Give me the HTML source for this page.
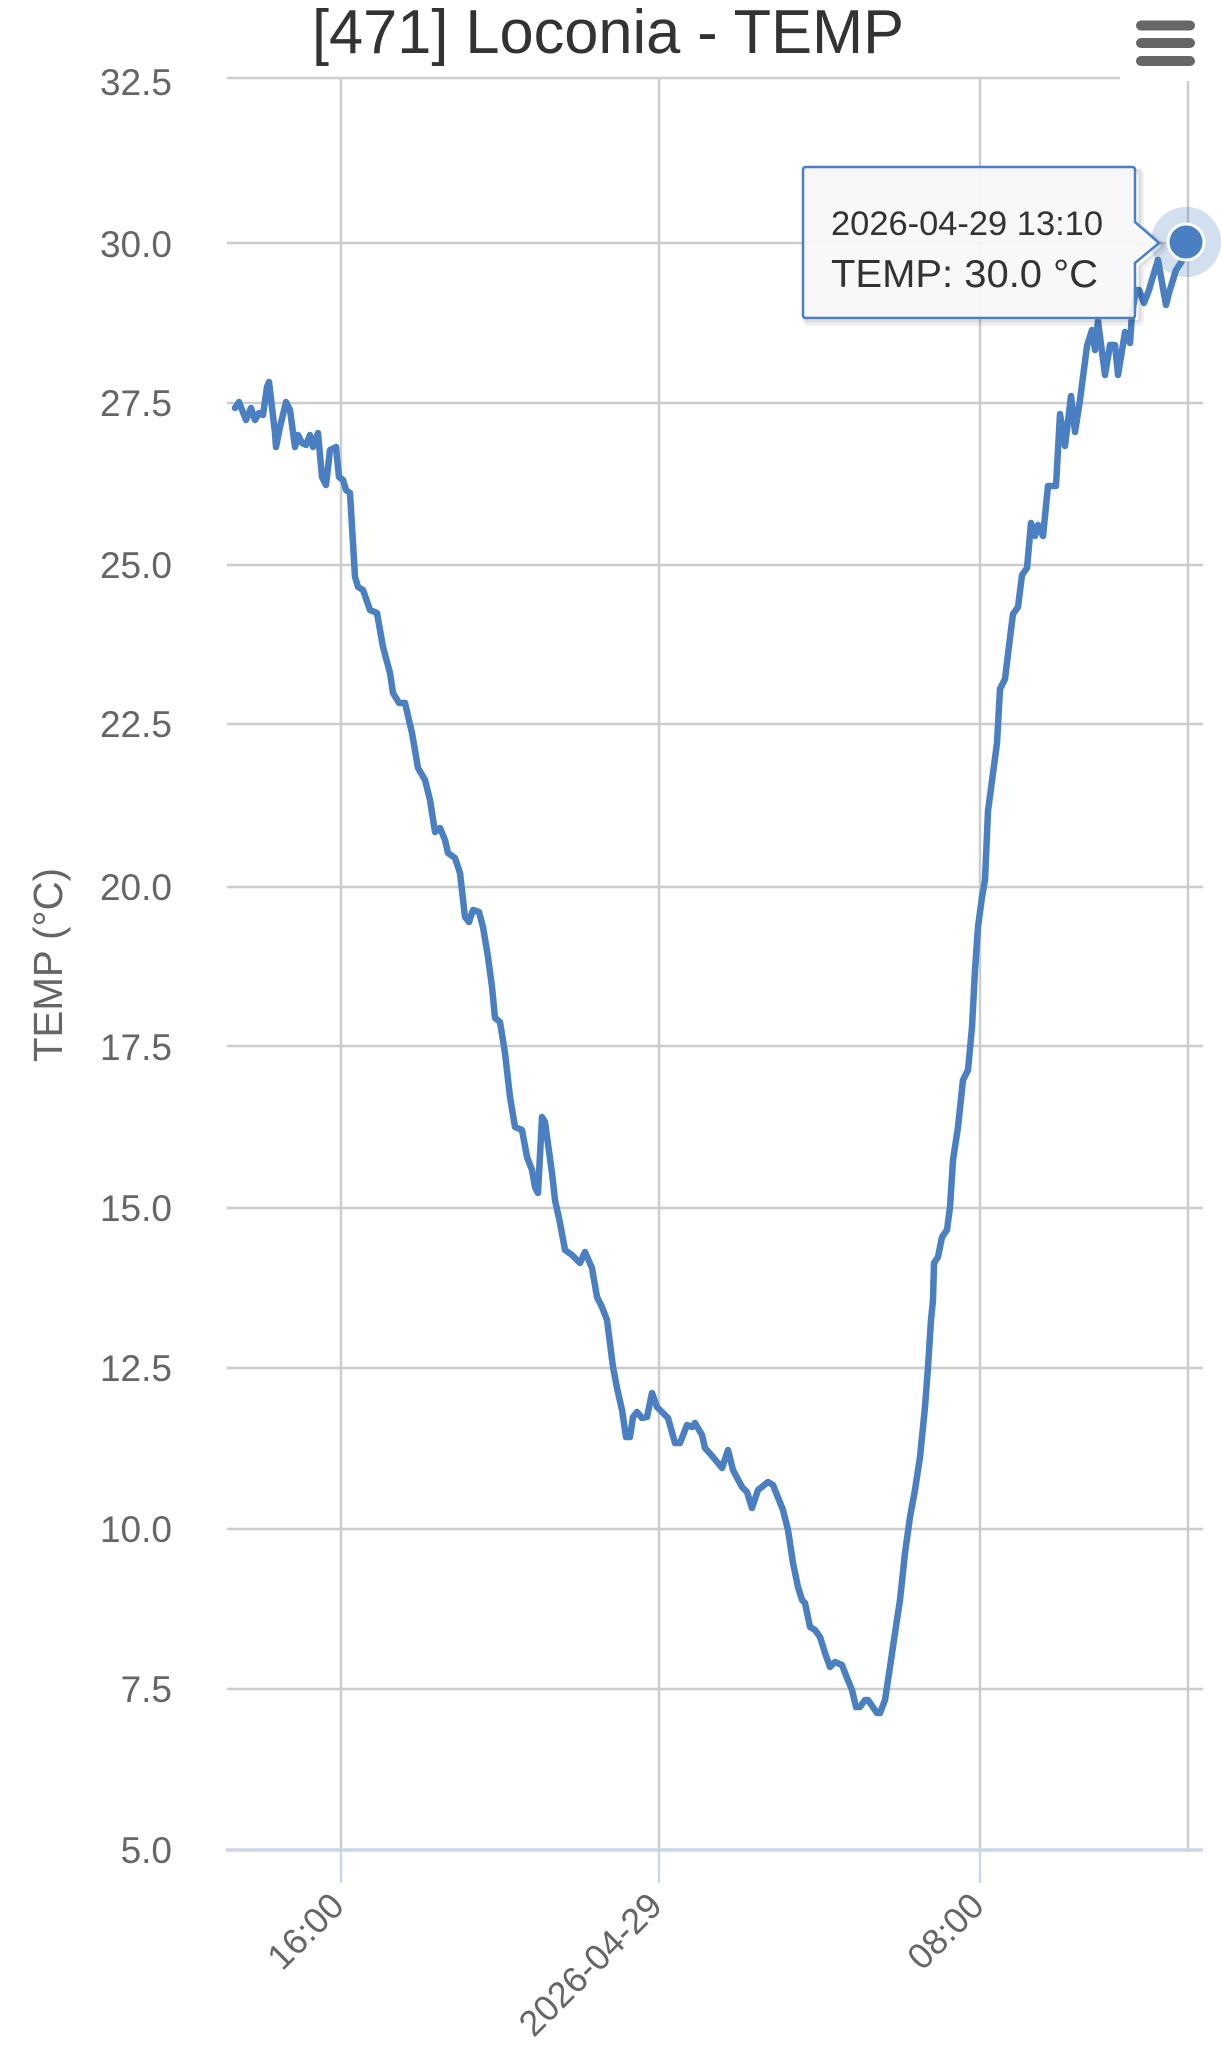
<!DOCTYPE html>
<html>
<head>
<meta charset="utf-8">
<style>
  html, body { margin: 0; padding: 0; background: #ffffff; }
  svg { display: block; }
  text { font-family: "Liberation Sans", Arial, sans-serif; }
</style>
</head>
<body>
<svg width="1221" height="2058" viewBox="0 0 1221 2058" xmlns="http://www.w3.org/2000/svg">
  <rect x="0" y="0" width="1221" height="2058" fill="#ffffff"/>

  <!-- horizontal grid lines -->
  <g stroke="#cccccc" stroke-width="2.5">
    <line x1="227" y1="78" x2="1203" y2="78"/>
    <line x1="227" y1="243" x2="1203" y2="243"/>
    <line x1="227" y1="403" x2="1203" y2="403"/>
    <line x1="227" y1="565" x2="1203" y2="565"/>
    <line x1="227" y1="724" x2="1203" y2="724"/>
    <line x1="227" y1="887" x2="1203" y2="887"/>
    <line x1="227" y1="1046" x2="1203" y2="1046"/>
    <line x1="227" y1="1208" x2="1203" y2="1208"/>
    <line x1="227" y1="1368" x2="1203" y2="1368"/>
    <line x1="227" y1="1529" x2="1203" y2="1529"/>
    <line x1="227" y1="1689" x2="1203" y2="1689"/>
  </g>
  <!-- vertical grid lines -->
  <g stroke="#cccccc" stroke-width="2.5">
    <line x1="341" y1="78" x2="341" y2="1850"/>
    <line x1="659" y1="78" x2="659" y2="1850"/>
    <line x1="980" y1="78" x2="980" y2="1850"/>
    <!-- crosshair -->
    <line x1="1188" y1="78" x2="1188" y2="1850"/>
  </g>

  <!-- x axis line and ticks -->
  <line x1="226" y1="1850" x2="1203" y2="1850" stroke="#ccd6eb" stroke-width="3.5"/>
  <g stroke="#ccd6eb" stroke-width="2.5">
    <line x1="341" y1="1850" x2="341" y2="1883"/>
    <line x1="659" y1="1850" x2="659" y2="1883"/>
    <line x1="980" y1="1850" x2="980" y2="1883"/>
  </g>

  <!-- y axis labels -->
  <g fill="#666666" font-size="37" text-anchor="end">
    <text x="172" y="95">32.5</text>
    <text x="172" y="257">30.0</text>
    <text x="172" y="416">27.5</text>
    <text x="172" y="578">25.0</text>
    <text x="172" y="737">22.5</text>
    <text x="172" y="900">20.0</text>
    <text x="172" y="1060">17.5</text>
    <text x="172" y="1221">15.0</text>
    <text x="172" y="1381">12.5</text>
    <text x="172" y="1542">10.0</text>
    <text x="172" y="1702">7.5</text>
    <text x="172" y="1863">5.0</text>
  </g>

  <!-- y axis title -->
  <text transform="translate(62,965) rotate(-90)" text-anchor="middle" font-size="41" fill="#666666" textLength="194" lengthAdjust="spacingAndGlyphs">TEMP (°C)</text>

  <!-- x axis labels -->
  <g fill="#666666" font-size="36" text-anchor="end">
    <text transform="translate(346,1908) rotate(-45)">16:00</text>
    <text transform="translate(664,1908) rotate(-45)">2026-04-29</text>
    <text transform="translate(986,1908) rotate(-45)">08:00</text>
  </g>

  <!-- series line -->
  <polyline fill="none" stroke="#4a7fc1" stroke-width="6.5" stroke-linejoin="round" stroke-linecap="round"
    points="235,408 239,402 246,420 251,408 255,420 259,413 263,415 267,387 269,382 275,433 276,447 280,427 286,402 290,410 295,447 298,435 302,443 306,445 310,435 313,447 318,433 322,477 326,485 330,450 336,447 339,477 343,480 346,490 350,493 355,577 358,587 363,590 370,610 377,613 383,647 390,673 393,693 399,703 405,703 412,733 418,768 425,780 430,800 435,832 440,828 445,840 448,853 455,858 460,873 465,917 469,922 473,910 479,912 483,927 488,957 492,987 495,1018 500,1022 505,1053 510,1097 515,1127 522,1130 527,1157 532,1170 535,1187 538,1193 542,1117 545,1122 552,1173 555,1200 560,1223 565,1250 572,1255 580,1263 585,1252 592,1268 597,1297 602,1307 607,1320 613,1367 617,1388 622,1410 626,1437 630,1437 633,1417 637,1412 642,1418 647,1417 652,1393 657,1407 663,1413 668,1418 675,1443 680,1443 687,1425 692,1427 695,1423 702,1435 705,1448 713,1457 722,1468 728,1450 733,1470 742,1487 747,1492 752,1508 758,1490 768,1482 773,1485 783,1510 788,1530 793,1563 798,1587 802,1600 805,1603 810,1627 815,1630 820,1637 825,1653 830,1667 835,1662 842,1665 847,1678 852,1690 856,1707 860,1707 865,1700 868,1700 877,1713 880,1713 885,1700 890,1667 895,1633 900,1600 905,1553 910,1517 915,1490 920,1457 925,1407 928,1367 931,1320 933,1300 934,1263 938,1257 942,1237 947,1230 950,1207 953,1160 958,1127 963,1080 968,1070 972,1027 975,970 978,927 982,897 985,880 988,811 997,743 1000,689 1005,679 1008,654 1013,614 1018,607 1022,575 1027,568 1031,523 1035,536 1038,525 1043,536 1048,486 1056,486 1060,414 1065,446 1071,396 1075,432 1080,400 1087,346 1092,330 1095,350 1098,321 1105,375 1110,345 1115,345 1118,375 1125,332 1130,343 1132,314 1136,290 1139,290 1144,303 1149,290 1154,273 1158,260 1161,277 1166,305 1169,293 1176,270 1184,258 1186,242"/>

  <!-- hover marker -->
  <circle cx="1186" cy="242" r="35" fill="#4a7fc1" fill-opacity="0.25"/>
  <circle cx="1186" cy="242" r="18" fill="#4a7fc1" stroke="#ffffff" stroke-width="3"/>

  <!-- tooltip shadow -->
  <g fill="none" stroke="#000000">
    <path d="M809,172 H1138 Q1141,172 1141,175 V227 L1165,248 L1141,268 V320 Q1141,323 1138,323 H809 Q806,323 806,320 V175 Q806,172 809,172 Z" stroke-opacity="0.06" stroke-width="6"/>
    <path d="M808,170 H1137 Q1140,170 1140,173 V225 L1163,246 L1140,266 V318 Q1140,321 1137,321 H808 Q805,321 805,318 V173 Q805,170 808,170 Z" stroke-opacity="0.08" stroke-width="3"/>
  </g>
  <!-- tooltip -->
  <path d="M806,167 H1132 Q1135,167 1135,170 V222 L1159,243 L1135,263 V315 Q1135,318 1132,318 H806 Q803,318 803,315 V170 Q803,167 806,167 Z"
        fill="#f7f7f7" fill-opacity="0.92" stroke="#4a7fc1" stroke-width="2.5"/>
  <text x="831" y="235" font-size="34" fill="#333333" textLength="272" lengthAdjust="spacingAndGlyphs">2026-04-29 13:10</text>
  <text x="831" y="287" font-size="39" fill="#333333" textLength="267" lengthAdjust="spacingAndGlyphs">TEMP: 30.0 °C</text>

  <!-- export button -->
  <rect x="1120" y="0" width="101" height="81" fill="#ffffff"/>
  <g stroke="#666666" stroke-width="10" stroke-linecap="round">
    <line x1="1141" y1="25.5" x2="1190" y2="25.5"/>
    <line x1="1141" y1="43" x2="1190" y2="43"/>
    <line x1="1141" y1="61" x2="1190" y2="61"/>
  </g>

  <!-- title -->
  <text x="608" y="53" text-anchor="middle" font-size="62" fill="#333333" textLength="592" lengthAdjust="spacingAndGlyphs">[471] Loconia - TEMP</text>
</svg>
</body>
</html>
